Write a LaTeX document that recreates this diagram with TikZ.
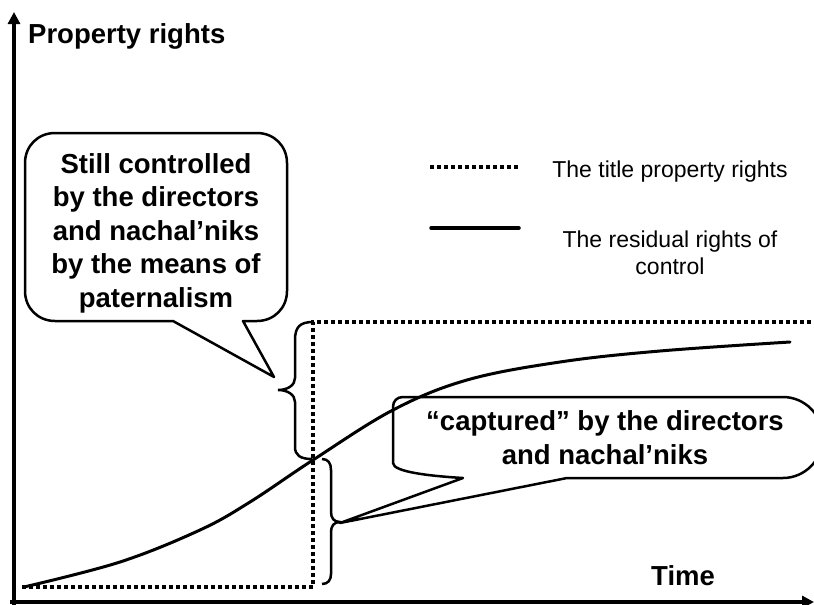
\documentclass[tikz,border=0pt]{standalone}
\usepackage{fontspec}
\setmainfont{Liberation Sans}
\usetikzlibrary{arrows.meta}
\begin{document}
\begin{tikzpicture}[x=1pt,y=-1pt,
  axis/.style={line width=4pt,-{Triangle[length=12pt,width=12pt]}},
  titleline/.style={line width=3.5pt,dash pattern=on 4pt off 3pt},
  controlline/.style={line width=3pt,line cap=round},
  bracepath/.style={line width=2.5pt},
  callout/.style={line width=2.5pt,line join=round},
  bigtext/.style={font=\fontsize{27.5}{33.5}\selectfont\bfseries,inner sep=0pt,align=center},
  legtext/.style={font=\fontsize{23}{27}\selectfont,inner sep=0pt,align=center}]
\useasboundingbox (0,0) rectangle (814,605);
\clip (0,0) rectangle (814,605);

% axes
\coordinate (ybot) at (14,605);
\coordinate (ytop) at (14,12);
\coordinate (xstart) at (10,602);
\coordinate (xend) at (814,602);
\draw[axis] (ybot) -- (ytop);
\draw[axis] (xstart) -- (xend);
\node[bigtext,anchor=base west] (ylab) at (28,43) {Property rights};
\node[bigtext,anchor=base west] (xlab) at (651,585) {Time};

% title property rights
\coordinate (t0) at (22,587);
\coordinate (t1) at (313,587);
\coordinate (t2) at (313,322);
\coordinate (t3) at (814,322);
\draw[titleline] (t0) -- (t1) -- (t2) -- (t3);

% residual rights of control
\draw[controlline] plot[smooth,tension=0.6] coordinates {(24,587) (120,562) (200,530) (250,502) (313,460) (393,410) (467,380) (560,362) (660,351) (790,342)};

% legend
\coordinate (l1a) at (430,167);
\coordinate (l1b) at (518,167);
\coordinate (l2a) at (431,228);
\coordinate (l2b) at (519,228);
\draw[titleline] (l1a) -- (l1b);
\draw[controlline,line width=3.5pt] (l2a) -- (l2b);
\node[legtext,anchor=base] (leg1) at (670,177) {The title property rights};
\node[legtext] (leg2) at (670,253) {The residual rights of\\control};

% braces
\coordinate (b1tip) at (278,390);
\draw[bracepath] (313,322) .. controls (300,322) and (295,327) .. (295,340) -- (295,378)
  .. controls (295,385) and (288,390) .. (b1tip)
  .. controls (288,390) and (295,395) .. (295,402) -- (295,447)
  .. controls (295,455) and (300,459) .. (312,459);
\coordinate (b2tip) at (340,522);
\draw[bracepath] (322,459) .. controls (328,459) and (331,463) .. (331,470) -- (331,512)
  .. controls (331,518) and (334,522) .. (b2tip)
  .. controls (334,522) and (331,526) .. (331,532) -- (331,574)
  .. controls (331,580) and (328,584) .. (322,584);

% callout 1
\coordinate (p1tip) at (274,377);
\draw[callout] (55,133) -- (257,133) .. controls (274,133) and (287,146) .. (287,163)
  -- (287,291) .. controls (287,308) and (274,321) .. (257,321)
  -- (243,321) -- (p1tip) -- (173,321)
  -- (55,321) .. controls (38,321) and (25,308) .. (25,291)
  -- (25,163) .. controls (25,146) and (38,133) .. (55,133) -- cycle;
\node[bigtext] (c1) at (156,233) {Still controlled\\by the directors\\and nachal’niks\\by the means of\\paternalism};

% callout 2
\coordinate (p2tip) at (340,523);
\draw[callout] (403,397) -- (783,397) .. controls (805,397) and (823,415.5) .. (823,437.5)
  .. controls (823,459.5) and (805,478) .. (783,478)
  -- (567,478) -- (p2tip) -- (463,478)
  .. controls (430,476) and (393,472) .. (393,463)
  -- (393,407) .. controls (393,401) and (397,397) .. (403,397) -- cycle;
\node[bigtext] (c2) at (605,437.5) {“captured” by the directors\\and nachal’niks};
\end{tikzpicture}
\end{document}
